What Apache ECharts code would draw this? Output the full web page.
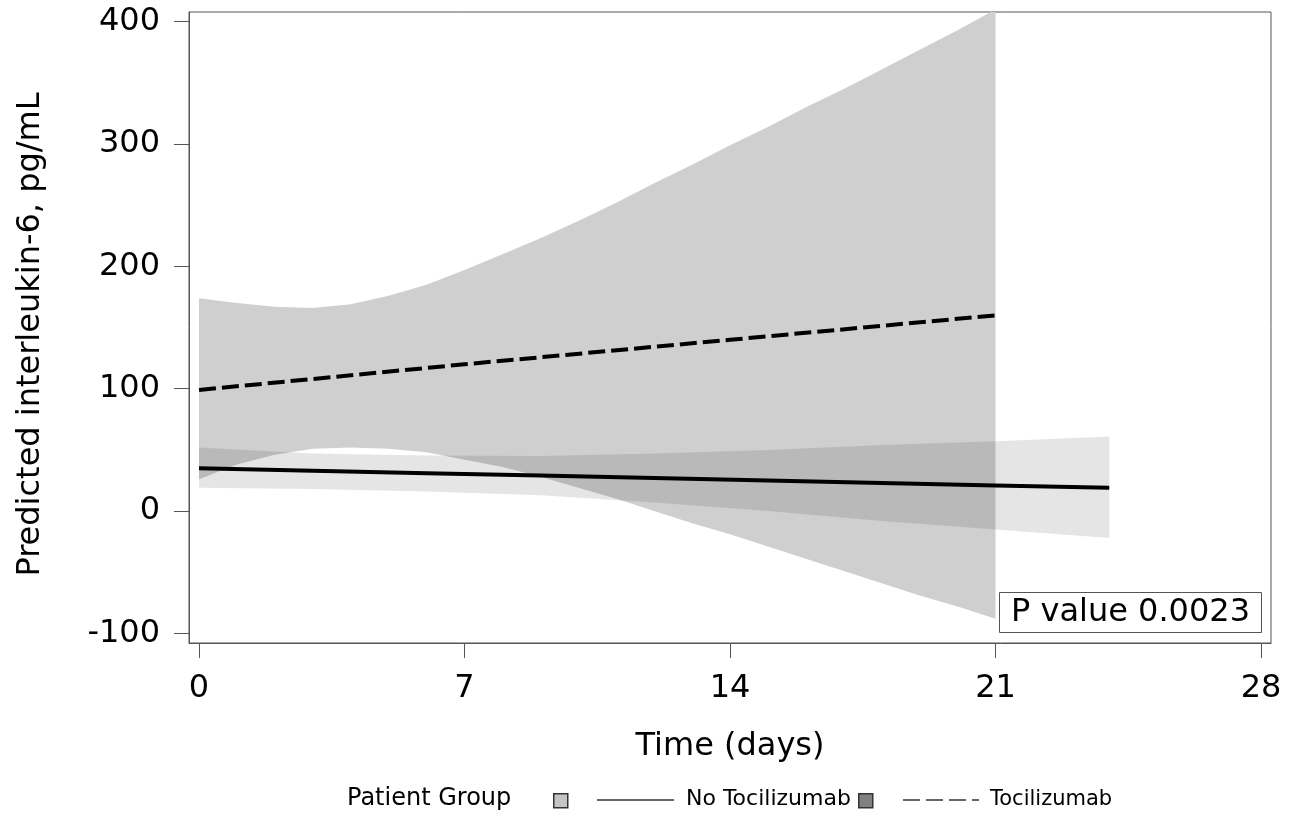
<!DOCTYPE html>
<html>
<head>
<meta charset="utf-8">
<script src="https://cdn.jsdelivr.net/npm/echarts@6/dist/echarts.min.js"></script>
<style>
  html, body { margin: 0; padding: 0; background: #fff; }
  #chart { width: 1296px; height: 819px; }
</style>
</head>
<body>
<div id="chart"></div>
<script>
// tick labels
const xTicks = [0, 7, 14, 21, 28]
const yTicks = [-100, 0, 100, 200, 300, 400]

// Tocilizumab: confidence band (daily) and predicted line
const tociBandDays = [0, 1, 2, 3, 4, 5, 6, 7, 8, 9, 10, 11, 12, 13, 14, 15, 16, 17, 18, 19, 20, 21]
const tociUpper = [174, 170, 167, 166, 169, 176, 185, 197, 210, 223, 237, 252, 268, 283, 299, 314, 330, 345, 361, 377, 393, 410]
const tociLower = [26, 38, 46, 51, 52, 51, 48, 42, 36, 28, 19, 10, 0, -10, -19, -29, -39, -49, -59, -69, -78, -88]
const tociLineDays = [0, 7, 14, 21]
const tociLine = [99, 120, 140, 160]

// No Tocilizumab: confidence band and predicted line
const noBandDays = [0, 3, 6, 9, 12, 15, 18, 21, 24]
const noUpper = [52, 47, 45.5, 45, 47, 50, 54, 57, 61]
const noLower = [19, 18, 16, 13, 7, 0, -8, -15, -22]
const noLineDays = [0, 3, 6, 9, 12, 15, 18, 21, 24]
const noLine = [35, 33, 31, 29, 27, 25, 23, 21, 19]

const pValueText = 'P value 0.0023'
const FONT = 'DejaVu Sans'

const chart = echarts.init(document.getElementById('chart'))

// draws a filled band between lower and upper arrays
const bandRenderer = (days, lo, hi, fill) => (params, api) => {
  if (params.dataIndex !== 0) return null
  const pts = []
  for (let i = 0; i < days.length; i++) pts.push(api.coord([days[i], hi[i]]))
  for (let i = days.length - 1; i >= 0; i--) pts.push(api.coord([days[i], lo[i]]))
  return {
    type: 'polygon',
    shape: { points: pts },
    style: { fill: fill, stroke: null }
  }
}

const pairs = (xs, ys) => xs.map((x, i) => [x, ys[i]])

const option = {
  animation: false,
  grid: {
    left: 189,
    right: 25,
    top: 12,
    bottom: 176,
    show: true,
    borderColor: '#555',
    borderWidth: 1
  },
  xAxis: {
    type: 'value',
    min: -0.264,
    max: 28.264,
    name: 'Time (days)',
    nameLocation: 'middle',
    nameGap: 88,
    nameTextStyle: { fontFamily: FONT, fontSize: 32, color: '#000' },
    axisLine: { show: true, onZero: false, lineStyle: { color: '#555', width: 1 } },
    axisTick: { show: true, inside: false, length: 15, customValues: xTicks, lineStyle: { color: '#555' } },
    axisLabel: { customValues: xTicks, fontFamily: FONT, fontSize: 32, color: '#000', margin: 30 },
    splitLine: { show: false }
  },
  yAxis: {
    type: 'value',
    min: -107.8,
    max: 407.9,
    name: 'Predicted interleukin-6, pg/mL',
    nameLocation: 'middle',
    nameGap: 142,
    nameTextStyle: { fontFamily: FONT, fontSize: 32, color: '#000', padding: [0, 14, 0, 0] },
    axisLine: { show: true, onZero: false, lineStyle: { color: '#555', width: 1 } },
    axisTick: { show: true, inside: false, length: 15, customValues: yTicks, lineStyle: { color: '#555' } },
    axisLabel: { customValues: yTicks, fontFamily: FONT, fontSize: 32, color: '#000', margin: 29, padding: [5, 0, 0, 0] },
    splitLine: { show: false }
  },
  title: {
    text: pValueText,
    left: 999,
    top: 592,
    padding: [2, 12, 2, 12],
    borderColor: '#555',
    borderWidth: 1,
    textStyle: { fontFamily: FONT, fontSize: 32, fontWeight: 'normal', color: '#000', lineHeight: 37 }
  },
  series: [
    {
      name: 'Tocilizumab band',
      type: 'custom',
      clip: true,
      silent: true,
      z: 1,
      data: pairs(tociBandDays, tociUpper),
      renderItem: bandRenderer(tociBandDays, tociLower, tociUpper, '#cfcfcf')
    },
    {
      name: 'No Tocilizumab band',
      type: 'custom',
      clip: true,
      silent: true,
      z: 2,
      data: pairs(noBandDays, noUpper),
      renderItem: bandRenderer(noBandDays, noLower, noUpper, 'rgba(0,0,0,0.1)')
    },
    {
      name: 'Tocilizumab',
      type: 'line',
      z: 3,
      data: pairs(tociLineDays, tociLine),
      showSymbol: false,
      lineStyle: { color: '#000', width: 4, type: [17, 6] }
    },
    {
      name: 'No Tocilizumab',
      type: 'line',
      z: 4,
      data: pairs(noLineDays, noLine),
      showSymbol: false,
      lineStyle: { color: '#000', width: 4 }
    }
  ],
  // legend row at the bottom
  graphic: [
    { type: 'text', left: 347, top: 787, style: { text: 'Patient Group', font: '24px "DejaVu Sans"', fill: '#000' } },
    { type: 'rect', left: 553, top: 793, shape: { width: 14, height: 14 }, style: { fill: '#c4c4c4', stroke: '#333', lineWidth: 1.5 } },
    { type: 'line', shape: { x1: 597, y1: 800, x2: 674, y2: 800 }, style: { stroke: '#333', lineWidth: 1.5 } },
    { type: 'text', left: 686, top: 788, style: { text: 'No Tocilizumab', font: '22px "DejaVu Sans"', fill: '#000' } },
    { type: 'rect', left: 858, top: 793, shape: { width: 14, height: 14 }, style: { fill: '#808080', stroke: '#333', lineWidth: 1.5 } },
    { type: 'line', shape: { x1: 903, y1: 800, x2: 979, y2: 800 }, style: { stroke: '#333', lineWidth: 1.5, lineDash: [17, 6] } },
    { type: 'text', left: 990, top: 789, style: { text: 'Tocilizumab', font: '21px "DejaVu Sans"', fill: '#000' } }
  ]
}

chart.setOption(option)
window.addEventListener('resize', () => chart.resize())
</script>
</body>
</html>
